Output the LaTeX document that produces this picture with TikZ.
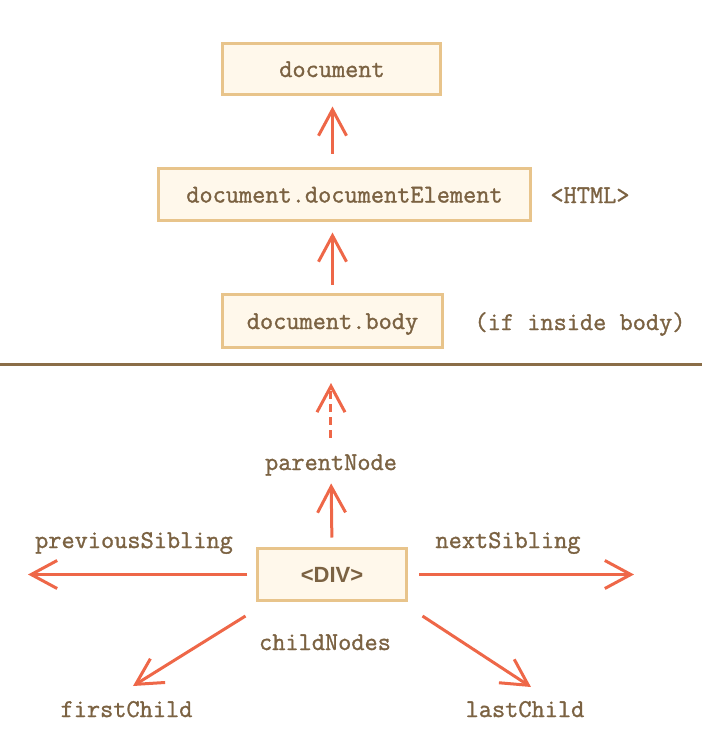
\documentclass[tikz,border=0pt]{standalone}
\usepackage{fontspec}
\usepackage{xcolor}
\usetikzlibrary{arrows.meta}
\newfontfamily\divfont{Liberation Sans}
\newfontfamily\navtt{Latin Modern Mono}[FakeBold=1.2]

\definecolor{txtbrown}{HTML}{7B6242}
\definecolor{boxfill}{HTML}{FFF8EB}
\definecolor{boxline}{HTML}{E8C48B}
\definecolor{arrowred}{HTML}{EE6748}
\definecolor{linebrown}{HTML}{8A6D47}

\tikzset{
  navbox/.style={draw=boxline,fill=boxfill,line width=1.5pt,text=txtbrown,inner sep=0pt,
    font=\fontsize{12.8}{15}\selectfont\navtt,text height=8pt,text depth=0pt},
  navlabel/.style={text=txtbrown,inner sep=0pt,anchor=base,
    font=\fontsize{12.8}{15}\selectfont\navtt,text height=8pt,text depth=0pt},
  navarrow/.style={draw=arrowred,line width=1.5pt,-{Straight Barb[length=13pt,width=14pt]}}
}

\begin{document}
\begin{tikzpicture}[x=0.5pt,y=-0.5pt]
\useasboundingbox (0,0) rectangle (702,736);

\node [navbox,minimum width=109pt,minimum height=25.5pt] (doc) at (332,69) {document};
\node [navbox,minimum width=186pt,minimum height=26pt] (docel) at (344.5,194.5) {document.documentElement};
\node [navbox,minimum width=110pt,minimum height=26.5pt] (body) at (332.5,321) {document.body};
\node [navlabel] (html) at (590,203) {<HTML>};
\node [navlabel] (ifbody) at (580,330) {(if inside body)};

\draw [navarrow,shorten <=6.75pt,shorten >=5.25pt] (docel.north -| body) -- (doc.south -| body);
\draw [navarrow,shorten <=4.25pt,shorten >=5.25pt] (body.north) -- (docel.south -| body);

\coordinate (sepL) at (0,364);
\coordinate (sepR) at (702,364);
\draw [linebrown,line width=1.5pt] (sepL) -- (sepR);

\node [navbox,minimum width=74.5pt,minimum height=26pt,font=\fontsize{11}{13}\selectfont\divfont\bfseries,text height=7.8pt] (div) at (332,574.5) {<DIV>};
\node [navlabel] (parent) at (331,470) {parentNode};
\node [navlabel] (prev) at (134,548) {previousSibling};
\node [navlabel] (next) at (508,548) {nextSibling};
\node [navlabel] (childnodes) at (325,650) {childNodes};
\node [navlabel] (first) at (126.5,717) {firstChild};
\node [navlabel] (last) at (525,717) {lastChild};

\coordinate (prevEnd) at (28,574.5);
\coordinate (nextEnd) at (634,574.5);
\coordinate (firstEnd) at (133,686);
\coordinate (lastEnd) at (531,687);

\draw [navarrow,dash pattern=on 4pt off 2.5pt,shorten <=8pt,shorten >=9.5pt] (parent.north) -- (parent.north |- sepL);
\draw [navarrow,shorten <=4.75pt,shorten >=6.5pt] (div.north) -- (parent.south);
\draw [navarrow,shorten <=4.25pt] (div.west) -- (prevEnd);
\draw [navarrow,shorten <=5.75pt] (div.east) -- (nextEnd);
\draw [navarrow] ([shift={(-10.5,14)}]div.south west) -- (firstEnd);
\draw [navarrow] ([shift={(14.5,14)}]div.south east) -- (lastEnd);

\end{tikzpicture}
\end{document}
